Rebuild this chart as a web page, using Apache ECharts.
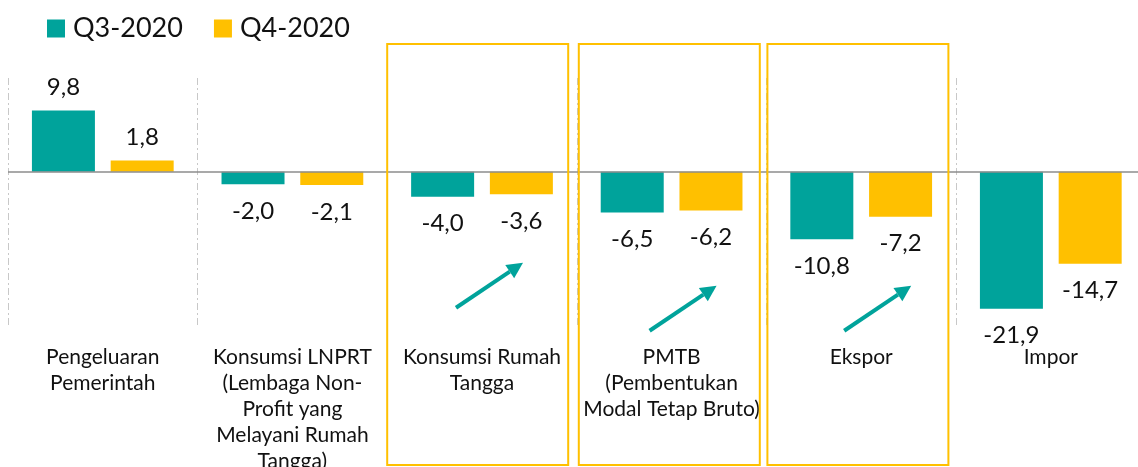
<!DOCTYPE html>
<html>
<head>
<meta charset="utf-8">
<script src="https://cdn.jsdelivr.net/npm/echarts@6/dist/echarts.min.js"></script>
<style>
  html, body { margin: 0; padding: 0; background: #fff; }
  #chart { width: 1138px; height: 467px; }
</style>
</head>
<body>
<div id="chart"></div>
<script>
// data
var categories = [
    'Pengeluaran\nPemerintah',
    'Konsumsi LNPRT\n(Lembaga Non-\nProfit yang\nMelayani Rumah\nTangga)',
    'Konsumsi Rumah\nTangga',
    'PMTB\n(Pembentukan\nModal Tetap Bruto)',
    'Ekspor',
    'Impor'
];
var q3 = [9.8, -2.0, -4.0, -6.5, -10.8, -21.9];
var q4 = [1.8, -2.1, -3.6, -6.2, -7.2, -14.7];
var boxed = [2, 3, 4];   // kategori yang diberi kotak + panah

var TEAL = '#00A39B';
var GOLD = '#FFC000';
var FONT = 'Lato';

var myChart = echarts.init(document.getElementById('chart'));

function fmt(p) {
    return p.value.toFixed(1).replace('.', ',');
}

function valueLabel() {
    return {
        show: true,
        formatter: fmt,
        fontFamily: FONT,
        fontSize: 24,
        color: '#111',
        position: 'top',
        distance: 11
    };
}

function makeData(arr) {
    return arr.map(function (v) {
        return {
            value: v,
            label: v < 0 ? { position: 'bottom', distance: 15 } : {}
        };
    });
}

var option = {
    animation: false,
    legend: {
        left: 42,
        top: 10,
        icon: 'rect',
        itemWidth: 18,
        itemHeight: 18,
        itemGap: 31,
        textStyle: { fontFamily: FONT, fontSize: 27, color: '#111', padding: [0, 0, 0, 3] },
        data: ['Q3-2020', 'Q4-2020']
    },
    grid: { left: 8, right: -7.6, top: 78, bottom: 139, containLabel: false, outerBoundsMode: 'none' },
    xAxis: {
        type: 'category',
        data: categories,
        axisLine: { show: false },
        axisTick: { show: false },
        axisLabel: {
            interval: 0,
            margin: 16,
            fontFamily: FONT,
            fontSize: 21,
            lineHeight: 26,
            color: '#111',
            verticalAlign: 'top'
        },
        splitLine: {
            show: true,
            interval: 0,
            lineStyle: { color: '#c8c8c8', width: 1, type: [7, 3, 2, 3] }
        }
    },
    yAxis: {
        type: 'value',
        min: -25,
        max: 15,
        show: false,
        splitLine: { show: false }
    },
    series: [
        {
            name: 'Q3-2020',
            type: 'bar',
            data: makeData(q3),
            barWidth: 63,
            barGap: '25%',
            itemStyle: { color: TEAL },
            label: valueLabel(),
            markLine: {
                silent: true,
                symbol: 'none',
                label: { show: false },
                lineStyle: { color: '#8c8c8c', width: 1.5, type: 'solid' },
                data: [{ yAxis: 0 }]
            }
        },
        {
            name: 'Q4-2020',
            type: 'bar',
            data: makeData(q4),
            barWidth: 63,
            barGap: '25%',
            itemStyle: { color: GOLD },
            label: valueLabel()
        }
    ]
};

myChart.setOption(option);

// kotak kuning + panah, posisinya dihitung dari sumbu
var step = myChart.convertToPixel({ xAxisIndex: 0 }, 1) - myChart.convertToPixel({ xAxisIndex: 0 }, 0);
var zeroY = myChart.convertToPixel({ yAxisIndex: 0 }, 0);
var elements = [];
boxed.forEach(function (idx, k) {
    var cx = myChart.convertToPixel({ xAxisIndex: 0 }, idx);
    var bx0 = cx - step / 2 + [0, 2, 1][k];
    elements.push({
        type: 'rect',
        shape: { x: bx0, y: 44, width: 181, height: 421 },
        style: { fill: 'none', stroke: GOLD, lineWidth: 2 },
        z: 10
    });
    var ax = [-26, -22, -17][k];
    var ay = [136, 159, 159][k];
    var x1 = cx + ax, y1 = zeroY + ay;
    var x2 = x1 + 67, y2 = y1 - 45;
    var len = Math.sqrt(67 * 67 + 45 * 45);
    var ux = 67 / len, uy = -45 / len;
    var hl = 16, hw = 8;
    var bx = x2 - ux * hl, by = y2 - uy * hl;
    elements.push({
        type: 'line',
        shape: { x1: x1, y1: y1, x2: bx, y2: by },
        style: { stroke: TEAL, lineWidth: 4 },
        z: 10
    });
    elements.push({
        type: 'polygon',
        shape: { points: [[x2, y2], [bx - uy * hw, by + ux * hw], [bx + uy * hw, by - ux * hw]] },
        style: { fill: TEAL },
        z: 10
    });
});
myChart.setOption({ graphic: elements });
</script>
</body>
</html>
